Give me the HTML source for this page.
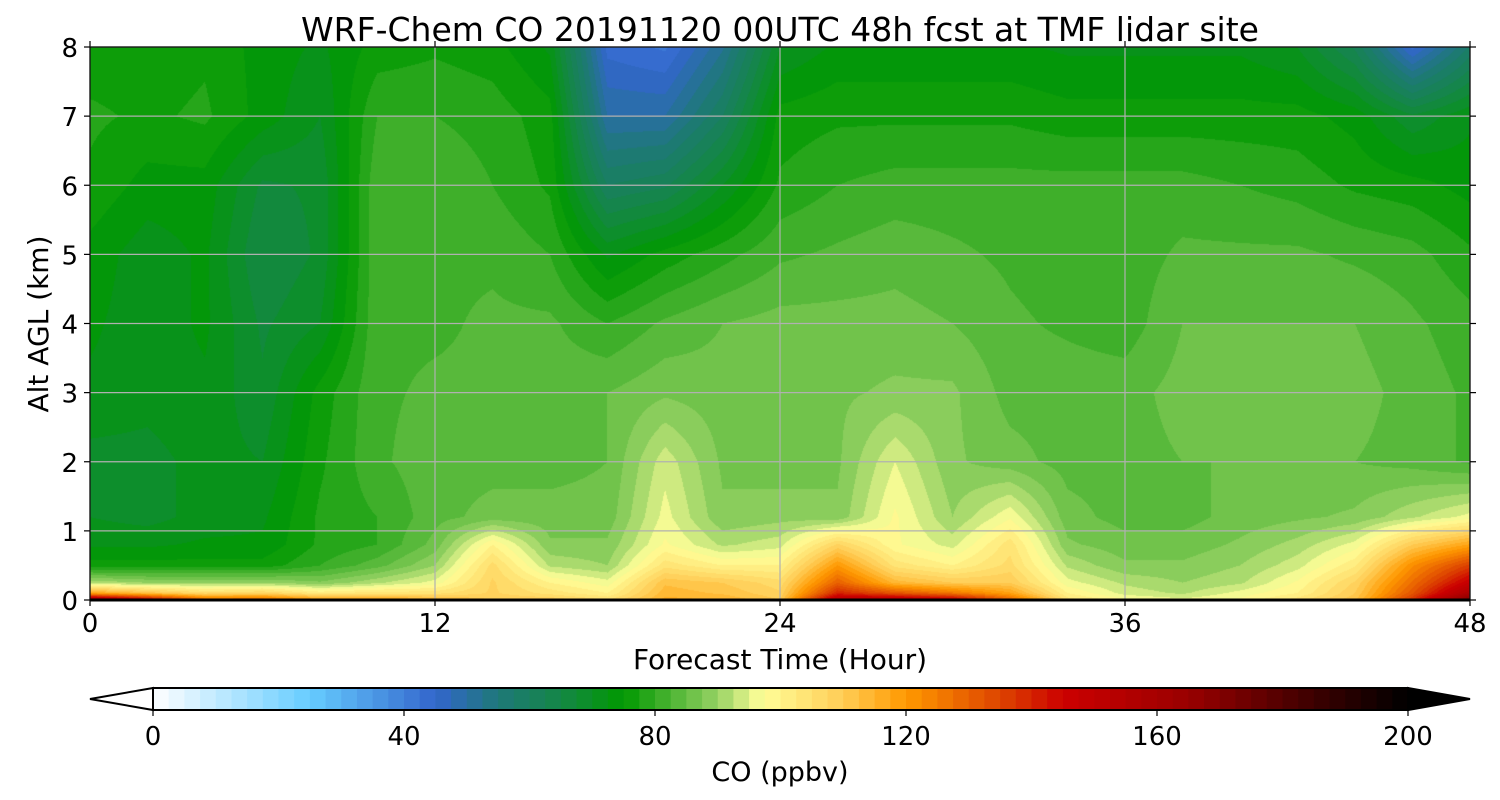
<!DOCTYPE html>
<html><head><meta charset="utf-8"><style>
body{margin:0;background:#fff;width:1500px;height:800px;overflow:hidden;position:relative;font-family:"DejaVu Sans","Liberation Sans",sans-serif}
canvas{position:absolute;left:90px;top:47px}
svg{position:absolute;left:0;top:0;font-family:"DejaVu Sans","Liberation Sans",sans-serif}
</style></head><body>
<canvas id="field" width="1380" height="553"></canvas>
<svg id="ax" width="1500" height="800"></svg>
<script>
const times=[0,2,4,6,8,10,12,14,16,18,20,22,24,26,28,30,32,34,36,38,40,42,44,46,48];
const alts=[0,0.1,0.25,0.5,0.8,1.2,2,3,4,5,6,7,8];
const co_0=[165,150,130,130,120,120,115,110,110,105,116,115,110,155,155,150,130,104,98,96,98,104,112,138,172];
const co_01=[118,112,106,108,102,104,104,108,104,100,114,112,108,140,132,126,118,100,94,92,96,100,110,132,158];
const co_025=[92,90,90,90,88,92,96,108,100,96,112,110,106,130,114,110,110,96,92,90,92,98,108,128,148];
const co_05=[76,76,76,76,80,84,90,106,92,90,104,100,100,120,104,100,106,92,88,88,90,94,102,122,136];
const co_08=[72,72,73,73,78,80,86,100,88,88,98,92,94,108,98,94,104,88,86,86,88,91,96,110,118];
const co_12=[70,69,71,72,78,80,84,86,86,86,96,88,89,88,98,90,97,86,84,84,86,87,88,92,96];
const co_2=[69,69,71,70,77,82,84,84,84,85,94,87,86,87,95,88,86,84,84,85,85,85,85,84,82];
const co_3=[72,71,72,68,76,82,83,83,84,85,87,86,86,87,88,88,84,84,84,86,86,86,86,84,82];
const co_4=[73,71,73,67,70,82,82,83,83,80,83,85,86,86,86,85,83,82,81,85,85,85,85,83,81];
const co_5=[74,71,73,65,68,82,82,82,80,72,76,79,82,83,84,83,82,81,81,83,83,83,82,81,78];
const co_6=[77,74,74,67,68,82,82,80,77,60,62,70,78,80,81,81,81,81,81,81,80,79,77,76,74];
const co_7=[78,77,78,74,70,80,80,79,76,50,50,60,76,77,77,77,77,76,76,76,76,76,74,68,72];
const co_8=[76,76,77,74,72,76,77,76,72,44,42,52,70,73,73,73,73,72,72,72,72,70,62,44,58];
const grid=[co_0,co_01,co_025,co_05,co_08,co_12,co_2,co_3,co_4,co_5,co_6,co_7,co_8];
const xTicks=[0,12,24,36,48];
const yTicks=[0,1,2,3,4,5,6,7,8];
const cbTicks=[0,40,80,120,160,200];

const anchors=[[0,[255,255,255]],[25,[102,204,255]],[45,[51,102,204]],[55,[30,120,120]],[65,[20,135,70]],[75,[0,153,0]],[80,[51,170,34]],[90,[150,210,100]],[97,[255,255,153]],[110,[255,204,85]],[120,[255,153,0]],[135,[221,68,0]],[145,[204,0,0]],[165,[153,0,0]],[185,[60,0,0]],[200,[0,0,0]]];
function cmap(v){v=Math.max(0,Math.min(200,v));for(let i=1;i<anchors.length;i++){if(v<=anchors[i][0]){const a=anchors[i-1],b=anchors[i],f=(v-a[0])/(b[0]-a[0]);return a[1].map((c,k)=>Math.round(c+(b[1][k]-c)*f));}}return [0,0,0];}
const W=1380,H=553,X0=90,Y0=47;
const xs=t=>X0+t/48*W, ys=a=>Y0+H-a/8*H;
function interp(t,a){let i=0;while(i<times.length-2&&times[i+1]<t)i++;let j=0;while(j<alts.length-2&&alts[j+1]<a)j++;
const ft=(t-times[i])/(times[i+1]-times[i]),fa=(a-alts[j])/(alts[j+1]-alts[j]);
const v00=grid[j][i],v01=grid[j][i+1],v10=grid[j+1][i],v11=grid[j+1][i+1];
return (v00*(1-ft)+v01*ft)*(1-fa)+(v10*(1-ft)+v11*ft)*fa;}
const ctx=document.getElementById('field').getContext('2d');const img=ctx.createImageData(W,H);
for(let py=0;py<H;py++){const a=(H-py-0.5)/H*8;for(let px=0;px<W;px++){const t=(px+0.5)/W*48;let v=interp(t,a);v=Math.floor(v/2.5)*2.5+1.25;const c=cmap(v);const k=(py*W+px)*4;img.data[k]=c[0];img.data[k+1]=c[1];img.data[k+2]=c[2];img.data[k+3]=255;}}
ctx.putImageData(img,0,0);

const svg=document.getElementById('ax');const NS='http://www.w3.org/2000/svg';
function el(tag,attrs,txt){const e=document.createElementNS(NS,tag);for(const k in attrs)e.setAttribute(k,attrs[k]);if(txt!==undefined)e.textContent=txt;svg.appendChild(e);return e;}
xTicks.forEach(t=>{const g=el('line',{x1:xs(t),x2:xs(t),y1:Y0,y2:Y0+H,stroke:'#b0b0b0','stroke-width':1.2});


el('line',{x1:xs(t),x2:xs(t),y1:Y0+H,y2:Y0+H+6,stroke:'#000','stroke-width':1.2});
el('line',{x1:xs(t),x2:xs(t),y1:Y0,y2:Y0-6,stroke:'#000','stroke-width':1.2});
const l=el('text',{x:xs(t),y:632,'font-size':26,'text-anchor':'middle'},String(t));

});
yTicks.forEach(a=>{const g=el('line',{x1:X0,x2:X0+W,y1:ys(a),y2:ys(a),stroke:'#b0b0b0','stroke-width':1.2});


el('line',{x1:X0-6,x2:X0,y1:ys(a),y2:ys(a),stroke:'#000','stroke-width':1.2});
el('line',{x1:X0+W,x2:X0+W+6,y1:ys(a),y2:ys(a),stroke:'#000','stroke-width':1.2});
const l=el('text',{x:X0-12,y:ys(a)+10,'font-size':26,'text-anchor':'end'},String(a));

});
const fr=el('rect',{x:X0,y:Y0,width:W,height:H,fill:'none',stroke:'#000','stroke-width':1.2});


el('line',{x1:X0,x2:X0+W,y1:Y0+H,y2:Y0+H,stroke:'#000','stroke-width':3});
const ti=el('text',{x:780,y:41,'font-size':33,'text-anchor':'middle'},'WRF-Chem CO 20191120 00UTC 48h fcst at TMF lidar site');


const xl=el('text',{x:780,y:669,'font-size':28,'text-anchor':'middle'},'Forecast Time (Hour)');


const yl=el('text',{x:0,y:0,'font-size':28,'text-anchor':'middle',transform:'translate(48,324) rotate(-90)'},'Alt AGL (km)');


const CB0=153,CB1=1408,CBY=688,CBH=22;const cx=v=>CB0+v/200*(CB1-CB0);
for(let v=0;v<200;v+=2.5){const c=cmap(v+1.25);el('rect',{x:cx(v),y:CBY,width:cx(2.5)-cx(0)+0.6,height:CBH,fill:`rgb(${c})`});}
const lt=el('polygon',{points:`${CB0},${CBY} 90,${CBY+CBH/2} ${CB0},${CBY+CBH}`,fill:'#fff',stroke:'#000','stroke-width':2});


const rt=el('polygon',{points:`${CB1},${CBY} 1470,${CBY+CBH/2} ${CB1},${CBY+CBH}`,fill:'#000',stroke:'#000','stroke-width':2});


const cbf=el('rect',{x:CB0,y:CBY,width:CB1-CB0,height:CBH,fill:'none',stroke:'#000','stroke-width':2});


cbTicks.forEach(v=>{el('line',{x1:cx(v),x2:cx(v),y1:CBY+CBH,y2:CBY+CBH+6,stroke:'#000','stroke-width':1.2});
const l=el('text',{x:cx(v),y:745,'font-size':26,'text-anchor':'middle'},String(v));

});
const cl=el('text',{x:780,y:781,'font-size':27,'text-anchor':'middle','xml:space':'preserve'},'CO  (ppbv)');


</script>
</body></html>
